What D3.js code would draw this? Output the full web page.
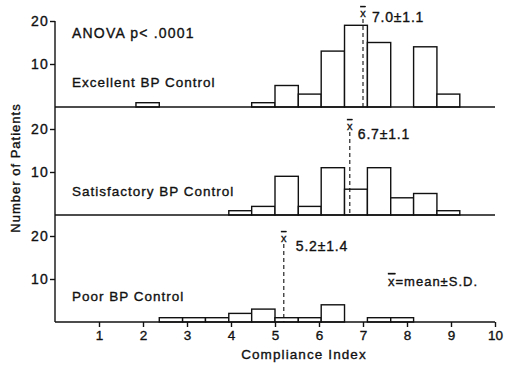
<!DOCTYPE html>
<html>
<head>
<meta charset="utf-8">
<script src="https://cdn.jsdelivr.net/npm/d3@7"></script>
<style>
  html, body { margin: 0; padding: 0; background: #fff; }
  svg { display: block; }
  text { font-family: "Liberation Sans", Arial, Helvetica, sans-serif; fill: #111; stroke: #111; stroke-width: 0.35px; }
</style>
</head>
<body>
<svg id="chart" width="509" height="371"></svg>
<script>
// Histogram bin edges on the compliance index scale
const binEdges = [1.84, 2.37, 2.90, 3.42, 3.95, 4.47, 5.00, 5.53, 6.05, 6.58, 7.10, 7.63, 8.15, 8.68, 9.20];

// Patients per bin for each blood-pressure control group
const excellentCounts    = [1, 0, 0, 0, 0, 1, 5, 3, 13, 19, 15, 0, 14, 3];
const satisfactoryCounts = [0, 0, 0, 0, 1, 2, 9, 2, 11, 6, 11, 4, 5, 1];
const poorCounts         = [0, 1, 1, 1, 2, 3, 1, 1, 4, 0, 1, 1, 0, 0];

const groupNames = ["Excellent BP Control", "Satisfactory BP Control", "Poor BP Control"];
const groupMeans = [7.0, 6.7, 5.2];
const groupSDs   = [1.1, 1.1, 1.4];

const xTicks = [1, 2, 3, 4, 5, 6, 7, 8, 9, 10];
const yTicks = [10, 20];

const groups = [excellentCounts, satisfactoryCounts, poorCounts].map((counts, i) => ({
  name: groupNames[i], counts, mean: groupMeans[i], sd: groupSDs[i]
}));

const svg = d3.select("#chart");
const ink = "#111";

const x = d3.scaleLinear().domain([0, 10]).range([55, 495]);

// three stacked panels sharing the x axis
const baselines = [107, 215, 322];
const panelH = 86;
// per-panel placement of the mean marker and its label
const markerTop = [13, 126, 238];
const labelDy   = [4, 8, 8];
const labelDx   = [9, 8, 12];
const nameY     = [82, 191, 296];

// continuous left axis line
svg.append("line")
  .attr("x1", x(0)).attr("x2", x(0))
  .attr("y1", baselines[0] - panelH).attr("y2", baselines[2])
  .attr("stroke", ink).attr("stroke-width", 1.4);

groups.forEach((g, i) => {
  const y = d3.scaleLinear().domain([0, 20]).range([baselines[i], baselines[i] - panelH]);
  const panel = svg.append("g");

  // bars
  const bins = g.counts.map((c, k) => ({ x0: binEdges[k], x1: binEdges[k + 1], c }))
    .filter(d => d.c > 0);
  panel.selectAll("rect.bar").data(bins).join("rect")
    .attr("class", "bar")
    .attr("x", d => x(d.x0))
    .attr("width", d => x(d.x1) - x(d.x0))
    .attr("y", d => y(d.c))
    .attr("height", d => y(0) - y(d.c))
    .attr("fill", "#fff")
    .attr("stroke", ink).attr("stroke-width", 1.4);

  // baseline
  panel.append("line")
    .attr("x1", x(0)).attr("x2", x(10))
    .attr("y1", y(0)).attr("y2", y(0))
    .attr("stroke", ink).attr("stroke-width", 1.4);

  // y ticks
  const yAxis = panel.append("g")
    .attr("transform", `translate(${x(0)},0)`)
    .call(d3.axisLeft(y).tickValues(yTicks).tickSize(5).tickPadding(1).tickFormat(d3.format("d")));
  yAxis.select(".domain").remove();
  yAxis.selectAll("line").attr("stroke", ink).attr("stroke-width", 1.4);
  yAxis.selectAll("text")
    .style("font-size", "14px").style("letter-spacing", "1.2px")
    .attr("fill", ink);

  // mean marker
  const mx = x(g.mean);
  panel.append("line")
    .attr("x1", mx).attr("x2", mx)
    .attr("y1", markerTop[i] + 6).attr("y2", y(0))
    .attr("stroke", ink).attr("stroke-width", 1.1)
    .attr("stroke-dasharray", "4,3");
  panel.append("text")
    .attr("x", mx).attr("y", markerTop[i] + 4)
    .attr("text-anchor", "middle")
    .style("font-size", "11px")
    .style("text-decoration", "overline")
    .text("x");
  panel.append("text")
    .attr("x", mx + labelDx[i]).attr("y", markerTop[i] + labelDy[i] + 5)
    .style("font-size", "14px").style("letter-spacing", "0.8px")
    .text(`${g.mean.toFixed(1)}\u00B1${g.sd.toFixed(1)}`);

  // group name
  panel.append("text")
    .attr("x", 72).attr("y", nameY[i] + 5)
    .style("font-size", "13.5px").style("letter-spacing", "1px")
    .text(g.name);
});

// x axis along the bottom panel
const xAxis = svg.append("g")
  .attr("transform", `translate(0,${baselines[2]})`)
  .call(d3.axisBottom(x).tickValues(xTicks).tickSize(5).tickPadding(3).tickFormat(d3.format("d")));
xAxis.select(".domain").remove();
xAxis.selectAll("line").attr("stroke", ink).attr("stroke-width", 1.4);
xAxis.selectAll("text").style("font-size", "13.5px").attr("fill", ink);

// axis titles and notes
svg.append("text")
  .attr("x", 304).attr("y", 359)
  .attr("text-anchor", "middle")
  .style("font-size", "13.5px").style("letter-spacing", "1.1px")
  .text("Compliance Index");

svg.append("text")
  .attr("transform", "translate(20,168) rotate(-90)")
  .attr("text-anchor", "middle")
  .style("font-size", "13px").style("letter-spacing", "1px")
  .text("Number of Patients");

const anova = svg.append("text")
  .attr("x", 72).attr("y", 38)
  .style("font-size", "14px").style("letter-spacing", "1.2px");
anova.append("tspan").text("ANOVA  p< .0001");

const note = svg.append("text")
  .attr("x", 388).attr("y", 286)
  .style("font-size", "13px").style("letter-spacing", "1px");
note.append("tspan").style("text-decoration", "overline").text("x");
note.append("tspan").text("=mean\u00B1S.D.");
</script>
</body>
</html>
